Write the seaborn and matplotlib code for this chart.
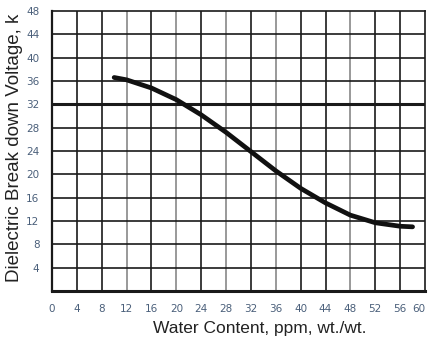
import numpy as np
import pandas as pd
import matplotlib
matplotlib.use("Agg")
import matplotlib.pyplot as plt
import seaborn as sns

# Data
water_ppm = [10, 12, 16, 20, 24, 28, 32, 36, 40, 44, 48, 52, 56, 58]
breakdown_kv = [36.6, 36.2, 34.8, 32.8, 30.2, 27.2, 23.9, 20.6, 17.6, 15.1, 13.0, 11.7, 11.1, 11.0]

x_ticks = list(range(0, 61, 4))
y_ticks = list(range(4, 49, 4))

df = pd.DataFrame({"water": water_ppm, "kv": breakdown_kv})

sns.set_style("white")
plt.rcParams['font.family'] = ['Liberation Sans', 'DejaVu Sans']

fig = plt.figure(figsize=(4.29, 3.42), dpi=100)
ax = fig.add_axes([52 / 429, 1 - 291 / 342, 373 / 429, 280 / 342])

# grid: mix of dark and grey verticals as in the scan
grey_x = {12, 20, 28, 36, 48}
for xv in x_ticks[1:-1]:
    ax.axvline(xv, color="#888888" if xv in grey_x else "#1a1a1a", lw=1.2, zorder=1)
for yv in y_ticks[:-1]:
    ax.axhline(yv, color="#1a1a1a", lw=2.2 if yv == 32 else 1.2, zorder=1)

sns.lineplot(data=df, x="water", y="kv", ax=ax, color="#111111", lw=3.4, zorder=3)

ax.set_xlim(0, 60)
ax.set_ylim(0, 48)
ax.set_xticks(x_ticks)
ax.set_yticks(y_ticks)
tick_font = dict(family=['Liberation Sans Narrow', 'DejaVu Sans'], size=7.5, color="#4a5f7a")
ax.set_xticklabels([str(v) for v in x_ticks], **tick_font)
ax.set_yticklabels([str(v) for v in y_ticks], **tick_font)
ax.tick_params(length=0, pad=9)
ax.get_xticklabels()[-1].set_horizontalalignment("right")
ax.get_xticklabels()[-1].set_x(59.8)

for s in ax.spines.values():
    s.set_color("#1a1a1a")
    s.set_linewidth(1.2)
ax.spines["bottom"].set_linewidth(2.2)
ax.spines["left"].set_linewidth(1.6)

ax.set_xlabel("Water Content, ppm, wt./wt.", fontsize=12.5, color="#222222")
ax.xaxis.set_label_coords((260 - 52) / 373, -(328 - 291) / 280)
ax.xaxis.label.set_va("center")
ax.set_ylabel("Dielectric Break down Voltage, k", fontsize=13.5, color="#222222")
ax.yaxis.set_label_coords(-(52 - 15) / 373, (291 - 148) / 280)
ax.yaxis.label.set_va("center")

fig.savefig("out.png", dpi=100)
